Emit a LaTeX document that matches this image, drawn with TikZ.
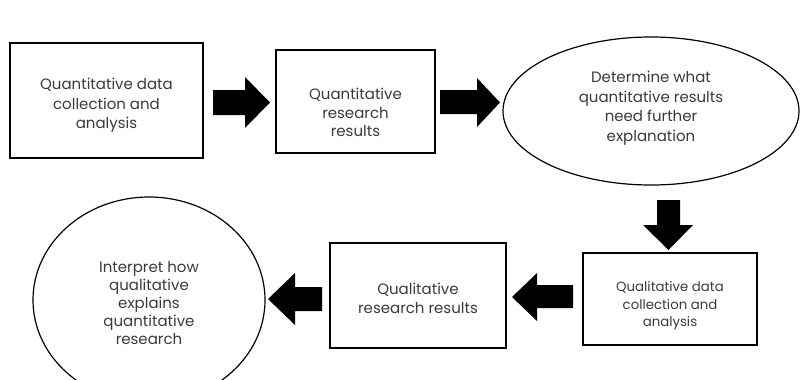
\documentclass[tikz,border=0pt]{standalone}
\usepackage{fontspec}
\setmainfont{Poppins}
\usetikzlibrary{shapes.geometric}
\definecolor{txtgray}{HTML}{3A3A3A}
\tikzset{
  stepbox/.style={draw, line width=1.8pt, inner sep=0pt},
  stepoval/.style={draw, ellipse, line width=1.2pt, inner sep=0pt},
  steptext/.style={align=center, text=txtgray, inner sep=0pt, font=\fontsize{15}{19.5}\selectfont},
  block arrow/.style={fill=black}
}
\begin{document}
\begin{tikzpicture}[x=1pt, y=-1pt]
	\useasboundingbox (0,0) rectangle (803,380);
	\clip (0,0) rectangle (803,380);
	% quantitative strand
	\node[stepbox, minimum width=193pt, minimum height=115pt](quandata) at (106.5,100.5){};
	\node[steptext](quandatatxt) at ([yshift=-5pt]quandata.center){Quantitative data\\collection and\\analysis};
	\node[stepbox, minimum width=159pt, minimum height=103pt](quanres) at (355.5,101.5){};
	\node[steptext, font=\fontsize{15}{18.5}\selectfont](quanrestxt) at ([yshift=-11pt]quanres.center){Quantitative\\research\\results};
	\node[stepoval, minimum width=296pt, minimum height=148pt](explain) at (651,111){};
	\node[steptext](explaintxt) at ([yshift=3pt]explain.center){Determine what\\quantitative results\\need further\\explanation};
	% qualitative strand
	\node[stepbox, minimum width=174pt, minimum height=92pt](qualdata) at (670,299){};
	\node[steptext, font=\fontsize{13.3}{17.5}\selectfont](qualdatatxt) at ([yshift=-7pt]qualdata.center){Qualitative data\\collection and\\analysis};
	\node[stepbox, minimum width=176pt, minimum height=105pt](qualres) at (418,295.5){};
	\node[steptext](qualrestxt) at ([yshift=-3pt]qualres.center){Qualitative\\research results};
	\node[stepoval, minimum width=232pt, minimum height=206pt](interp) at (149,300){};
	\node[steptext, font=\fontsize{15}{18}\selectfont](interptxt) at ([yshift=-3pt]interp.center){Interpret how\\qualitative\\explains\\quantitative\\research};
	% block arrows
	\fill[block arrow] (213,90) -- (245,90) -- (245,77) -- (270,102.5) -- (245,128) -- (245,115) -- (213,115) -- cycle;
	\fill[block arrow] (440,90) -- (477,90) -- (477,78) -- (500,102.5) -- (477,127) -- (477,114) -- (440,114) -- cycle;
	\fill[block arrow] (657,200) -- (680,200) -- (680,225) -- (693,225) -- (668.5,250) -- (643,225) -- (657,225) -- cycle;
	\fill[block arrow] (573,285) -- (537,285) -- (537,273) -- (512,297) -- (537,321) -- (537,308) -- (573,308) -- cycle;
	\fill[block arrow] (322,287) -- (295,287) -- (295,273) -- (268,299) -- (295,325) -- (295,311) -- (322,311) -- cycle;
\end{tikzpicture}
\end{document}
